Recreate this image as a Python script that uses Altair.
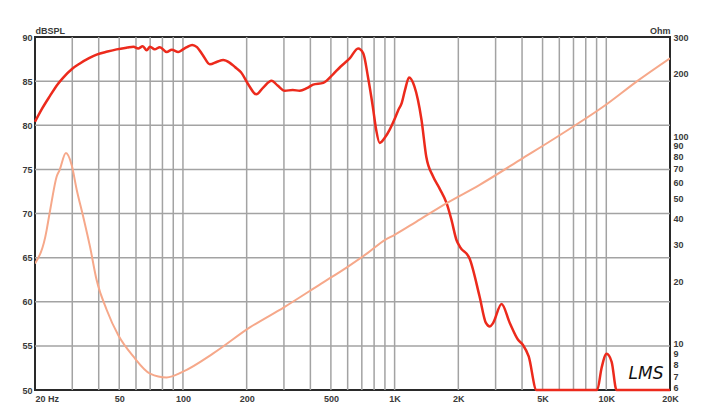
import altair as alt
import pandas as pd

# ---- data ----
spl_freq = [20, 21.5, 23.5, 25.5, 27.2, 30, 32.6, 36, 39.1, 44, 48.6, 54.5, 58.4, 61.4, 64.6,
            67.4, 69.9, 73.5, 77.8, 83.8, 88.6, 95, 100, 104.4, 110.6, 116.5, 124, 134, 145,
            155, 166, 176, 188, 205, 222, 240, 262, 280, 303, 330, 356, 385, 412, 460, 513,
            553, 615, 672, 711, 748, 789, 818, 850, 900, 948, 1000, 1040, 1080, 1120, 1170,
            1240, 1340, 1412, 1520, 1625, 1762, 1855, 1960, 2038, 2260, 2520, 2700, 2818,
            2920, 3200, 3500, 3830, 4040, 4300, 4680, 5000, 7000, 9060, 9500, 10030, 10600,
            11180, 15000, 20000]
spl_db = [80.4, 81.8, 83.3, 84.6, 85.4, 86.4, 87.0, 87.6, 88.0, 88.35, 88.6, 88.8, 88.9,
          88.7, 88.95, 88.5, 88.9, 88.6, 88.85, 88.3, 88.55, 88.3, 88.6, 88.85, 89.1, 88.85,
          87.96, 86.9, 87.2, 87.4, 87.1, 86.6, 86.0, 84.5, 83.5, 84.3, 85.05, 84.5, 83.9,
          84.0, 83.9, 84.2, 84.6, 84.8, 85.8, 86.6, 87.6, 88.7, 88.15, 85.5, 82.1, 79.5,
          78.0, 78.6, 79.5, 80.7, 81.7, 82.5, 84.0, 85.4, 84.4, 80.6, 76.4, 74.2, 72.9,
          71.15, 69.3, 67.0, 66.2, 64.9, 60.6, 57.6, 57.2, 57.6, 59.75, 57.6, 55.7, 55.1,
          53.8, 50.0, 50.0, 50.0, 50.0, 52.5, 54.1, 53.2, 50.0, 50.0, 50.0]

imp_freq = [20, 22.7, 23.0, 23.9, 25.3, 26.1, 28.0, 29.8, 31.5, 33.8, 36.4, 39.1, 43.6, 49.5,
            58.3, 69.9, 83.8, 100, 139, 207, 300, 450, 600, 750, 898, 1000, 1264, 1762,
            2500, 4040, 6020, 10000, 14000, 20000]
imp_ohm = [24.4, 35.3, 38.1, 47.6, 63.8, 68.4, 82.9, 72.6, 55.1, 40.9, 29.3, 20.3, 14.6, 11.0,
           8.7, 7.2, 6.9, 7.35, 9.0, 12.0, 15.0, 19.5, 23.5, 27.5, 31.6, 33.5, 38.7, 47.6,
           58.0, 78.4, 101, 142, 184, 237]

grid_freq = [30, 40, 50, 60, 70, 80, 90, 100, 200, 300, 400, 500, 600, 700, 800, 900, 1000,
             2000, 3000, 4000, 5000, 6000, 7000, 8000, 9000, 10000]
grid_db = [55, 60, 65, 70, 75, 80, 85]

x_label_values = [20, 50, 100, 200, 500, 1000, 2000, 5000, 10000, 20000]
x_label_text = ["20  Hz", "50", "100", "200", "500", "1K", "2K", "5K", "10K", "20K"]
left_ticks = [50, 55, 60, 65, 70, 75, 80, 85, 90]
right_ticks = [6, 7, 8, 9, 10, 20, 30, 40, 50, 60, 70, 80, 90, 100, 200, 300]

logo_text = "LMS"

# ---- tables ----
spl_df = pd.DataFrame({"f": spl_freq, "db": spl_db})
imp_df = pd.DataFrame({"f": imp_freq, "ohm": imp_ohm})
vgrid_df = pd.DataFrame({"f": grid_freq})
hgrid_df = pd.DataFrame({"db": grid_db})

label_expr = ""
for v, t in zip(x_label_values, x_label_text):
    label_expr += f"datum.value == {v} ? '{t}' : "
label_expr += "''"

FONT = "Liberation Sans"
xscale = alt.Scale(type="log", domain=[20, 20000], nice=False)
yl_scale = alt.Scale(domain=[50, 90], nice=False, zero=False)
yr_scale = alt.Scale(type="log", domain=[6, 300], nice=False)

x_axis = alt.Axis(values=x_label_values, labelExpr=label_expr, title=None,
                  labelAlign={"condition": {"test": "datum.value <= 20", "value": "left"},
                              "value": "center"},
                  labelPadding=4)
left_axis = alt.Axis(values=left_ticks, title="dBSPL", titleAngle=0, titleX=0, titleY=-4,
                     titleAlign="left", titleBaseline="alphabetic", labelPadding=3)
right_axis = alt.Axis(values=right_ticks, orient="right", title="Ohm", titleAngle=0,
                      titleX=0, titleY=-4, titleAlign="right", titleBaseline="alphabetic",
                      labelPadding=3, labelExpr="format(datum.value, 'd')",
                      labelBaseline={"condition": {"test": "datum.value <= 6",
                                                   "value": "alphabetic"},
                                     "value": "middle"})

X = lambda: alt.X("f:Q", scale=xscale, axis=x_axis)

vgrid = alt.Chart(vgrid_df).mark_rule(color="#a3a3a3", strokeWidth=1.5).encode(x=X())
hgrid = alt.Chart(hgrid_df).mark_rule(color="#a3a3a3", strokeWidth=1.5).encode(
    y=alt.Y("db:Q", scale=yl_scale, axis=left_axis))
spl = alt.Chart(spl_df).mark_line(color="#ec2a1c", strokeWidth=2.5, interpolate="monotone",
                                  clip=False).encode(
    x=X(), y=alt.Y("db:Q", scale=yl_scale, axis=left_axis))
logo = alt.Chart(pd.DataFrame({"t": [logo_text]})).mark_text(
    font="DejaVu Sans", fontStyle="italic", fontSize=17, color="#111").encode(
    x=alt.datum(15400, scale=xscale), y=alt.datum(51.8), text="t:N")

left_layer = alt.layer(vgrid, hgrid, spl, logo)

imp = alt.Chart(imp_df).mark_line(color="#f6a88a", strokeWidth=2, interpolate="monotone",
                                  clip=True).encode(
    x=X(), y=alt.Y("ohm:Q", scale=yr_scale, axis=right_axis))

chart = alt.layer(left_layer, imp).resolve_scale(y="independent").properties(
    width=635, height=353,
    autosize=alt.AutoSizeParams(type="none"),
    padding={"left": 27, "top": 29, "right": 30, "bottom": 22},
).configure_view(stroke="#2a2a2a", strokeWidth=2).configure_axis(
    domain=False, ticks=False, grid=False, labelFont=FONT, labelFontWeight="bold",
    labelFontSize=9, labelColor="#3a3a3a", labelOverlap=False, labelBound=False,
    titleFont=FONT, titleFontWeight="bold", titleFontSize=9, titleColor="#3a3a3a")

chart.save("out.html", embed_options={"renderer": "svg", "actions": False})
